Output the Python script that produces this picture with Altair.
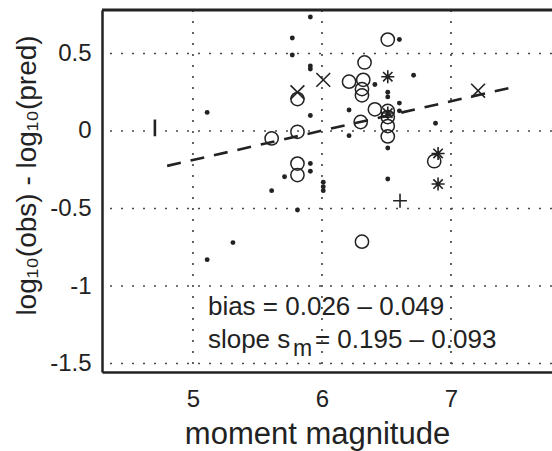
import altair as alt
import pandas as pd

# ---- data ----
x_ticks = [5, 6, 7]
y_ticks = [0.5, 0, -0.5, -1, -1.5]

dot_x = [5.11, 5.31, 5.11, 5.61, 5.81, 5.71, 5.77, 5.77, 5.91, 5.91, 5.91, 5.91, 5.91, 5.91,
         6.01, 6.01, 6.01, 6.21, 6.21, 6.41, 6.60, 6.71, 6.51, 6.51, 6.60, 6.60, 6.88, 6.51, 6.51]
dot_y = [0.12, -0.72, -0.83, -0.385, -0.51, -0.295, 0.60, 0.49, 0.735, 0.42, 0.40, 0.10, -0.21, -0.26,
         -0.33, -0.36, -0.385, 0.135, -0.03, 0.30, 0.59, 0.36, 0.25, 0.22, 0.18, 0.13, 0.05, -0.11, -0.31]

circ_x = [5.61, 5.81, 5.81, 5.81, 5.81, 6.21, 6.33, 6.32, 6.31, 6.31, 6.41, 6.30, 6.51, 6.51,
          6.51, 6.51, 6.51, 6.87, 6.31]
circ_y = [-0.048, -0.005, 0.206, -0.21, -0.284, 0.318, 0.442, 0.33, 0.27, 0.23, 0.14, 0.058, 0.59, 0.129,
          0.09, 0.032, -0.035, -0.195, -0.714]

xmark_x = [5.81, 6.01, 7.21]
xmark_y = [0.25, 0.33, 0.26]

star_x = [6.51, 6.51, 6.90, 6.90]
star_y = [0.35, 0.116, -0.145, -0.342]

plus_x = [6.605]
plus_y = [-0.45]

vtick_x = [4.705]
vtick_y = [0.02]

fit_x = [4.80, 7.45]
fit_y = [-0.225, 0.277]

ann_x = 5.116
bias_y = -1.187
slope_y = -1.40
bias_text = "bias = 0.026 \u2013 0.049"
slope_text_a = "slope s"
slope_text_sub = "m"
slope_text_b = "= 0.195 \u2013 0.093"

x_title = "moment magnitude"
y_title = "log\u2081\u2080(obs) - log\u2081\u2080(pred)"

# ---- layout ----
W, H = 450, 362
XDOM = [4.295, 7.783]
YDOM = [-1.5548, 0.7806]
FONT = "Liberation Sans"
INK = "#222222"
GRID = "#4a4a4a"

xs = alt.Scale(domain=XDOM, nice=False, zero=False)
ys = alt.Scale(domain=YDOM, nice=False, zero=False)

xaxis = alt.Axis(values=x_ticks, grid=False, ticks=False, tickSize=0, labelPadding=15,
                 labelFontSize=24, labelFont=FONT, labelColor=INK, domainColor=INK, domainWidth=2.5,
                 format="~g", title=x_title,
                 titleFont=FONT, titleFontSize=31, titleFontWeight="normal", titleColor=INK,
                 titleX=215, titleY=71, titleBaseline="alphabetic", titleAlign="center")
yaxis = alt.Axis(values=y_ticks, grid=False, ticks=False, tickSize=0, labelPadding=11,
                 labelFontSize=24, labelFont=FONT, labelColor=INK, domainColor=INK, domainWidth=2.5,
                 format="~g", labelExpr="replace(datum.label, '\u2212', '-')", title=y_title,
                 titleFont=FONT, titleFontSize=28, titleFontWeight="normal", titleColor=INK,
                 titleX=-67, titleY=165, titleAngle=270, titleBaseline="alphabetic",
                 titleAlign="center")

def df(x, y):
    return pd.DataFrame({"x": x, "y": y})

base_enc = dict(x=alt.X("x:Q", scale=xs, axis=xaxis), y=alt.Y("y:Q", scale=ys, axis=yaxis))

X_PATH = "M-1,-1L1,1M1,-1L-1,1"
STAR_PATH = "M-1,0L1,0M0,-1L0,1M-0.72,-0.72L0.72,0.72M0.72,-0.72L-0.72,0.72"
PLUS_PATH = "M-1,0L1,0M0,-1L0,1"
VT_PATH = "M0,-1L0,1"

# dotted grid drawn from the tick arrays
vgrid = alt.Chart(pd.DataFrame({"x": x_ticks})).mark_rule(color=GRID, strokeWidth=1.7,
                                                         strokeDash=[2, 9]).encode(
    x=alt.X("x:Q", scale=xs, axis=xaxis))
hgrid = alt.Chart(pd.DataFrame({"y": y_ticks})).mark_rule(color=GRID, strokeWidth=1.7,
                                                         strokeDash=[2, 9]).encode(
    y=alt.Y("y:Q", scale=ys, axis=yaxis))

fit = alt.Chart(df(fit_x, fit_y)).mark_line(color=INK, strokeWidth=2.6, strokeDash=[14, 10]).encode(**base_enc)

dots = alt.Chart(df(dot_x, dot_y)).mark_point(shape="circle", filled=True, size=24, color=INK,
                                              opacity=1).encode(**base_enc)
circs = alt.Chart(df(circ_x, circ_y)).mark_point(shape="circle", filled=False, size=176, color=INK,
                                                 strokeWidth=1.5, opacity=1).encode(**base_enc)
xmarks = alt.Chart(df(xmark_x, xmark_y)).mark_point(shape=X_PATH, filled=False, size=190, color=INK,
                                                    strokeWidth=1.6, opacity=1).encode(**base_enc)
stars = alt.Chart(df(star_x, star_y)).mark_point(shape=STAR_PATH, filled=False, size=170, color=INK,
                                                 strokeWidth=1.6, opacity=1).encode(**base_enc)
pluses = alt.Chart(df(plus_x, plus_y)).mark_point(shape=PLUS_PATH, filled=False, size=190, color=INK,
                                                  strokeWidth=1.6, opacity=1).encode(**base_enc)
vticks = alt.Chart(df(vtick_x, vtick_y)).mark_point(shape=VT_PATH, filled=False, size=280, color=INK,
                                                    strokeWidth=2.6, opacity=1).encode(**base_enc)

ann = pd.DataFrame({"x": [ann_x, ann_x, ann_x, ann_x],
                    "y": [bias_y, slope_y, slope_y, slope_y],
                    "t": [bias_text, slope_text_a, slope_text_sub, slope_text_b],
                    "dx": [0, 0, 85, 107],
                    "dy": [0, 0, 8, 0],
                    "fs": [26, 26, 23, 26]})

texts = []
for i in range(len(ann)):
    row = ann.iloc[[i]]
    texts.append(alt.Chart(row).mark_text(align="left", baseline="alphabetic", font=FONT,
                                          fontSize=int(row["fs"].iloc[0]),
                                          color=INK, dx=int(row["dx"].iloc[0]),
                                          dy=int(row["dy"].iloc[0])).encode(
        x=alt.X("x:Q", scale=xs, axis=xaxis), y=alt.Y("y:Q", scale=ys, axis=yaxis), text="t:N"))

top_border = alt.Chart(pd.DataFrame({"a": [0]})).mark_rule(color=INK, strokeWidth=3).encode(
    x=alt.value(0), x2=alt.value(W), y=alt.value(0))

chart = alt.layer(vgrid, hgrid, fit, dots, circs, xmarks, stars, pluses, vticks, *texts,
                  top_border).properties(
    width=W, height=H,
    padding={"left": 102, "top": 10, "right": 0, "bottom": 79},
    autosize=alt.AutoSizeParams(type="none"),
).configure_view(stroke=None).configure(background="white")

chart.save("out.html", embed_options={"renderer": "svg", "actions": False})
